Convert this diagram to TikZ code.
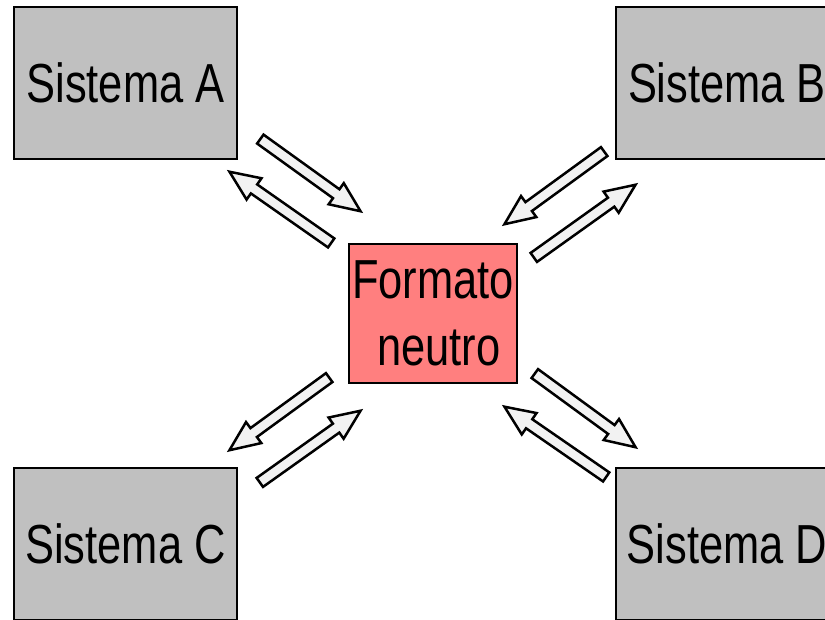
\documentclass[tikz,border=0pt]{standalone}
\usepackage{fontspec}
\setmainfont{Liberation Sans}[FakeStretch=0.79]
\usetikzlibrary{calc}
\definecolor{sysgray}{HTML}{C0C0C0}
\definecolor{neutralred}{HTML}{FF7F7F}
\definecolor{arrowgray}{HTML}{F2F2F2}

%% outlined block arrow from one named point to another
\newcommand\blockarrow[2]{%
  \draw[arrowdecorate] let \p1=($(#2)-(#1)$), \n1={atan2(\y1,\x1)},
    \n2={veclen(\x1,\y1)} in
    ([shift={(#1)},rotate=\n1]1,-5.5) -- ([shift={(#1)},rotate=\n1]\n2-33,-5.5)
    -- ([shift={(#1)},rotate=\n1]\n2-33,-13) -- ([shift={(#1)},rotate=\n1]\n2-3,0)
    -- ([shift={(#1)},rotate=\n1]\n2-33,13) -- ([shift={(#1)},rotate=\n1]\n2-33,5.5)
    -- ([shift={(#1)},rotate=\n1]1,5.5) -- cycle;
}

\begin{document}
\begin{tikzpicture}
[x=1pt,y=-1pt,
  sysdecorate/.style={shape=rectangle,draw,line width=2pt,fill=sysgray,
    minimum width=223pt,minimum height=152pt,inner sep=0pt,
    font=\fontsize{55}{67}\selectfont},%
  neutraldecorate/.style={sysdecorate,fill=neutralred,align=center,
    minimum width=168pt,minimum height=139pt},%
  arrowdecorate/.style={draw,line width=2.5pt,fill=arrowgray,line join=miter}]
\useasboundingbox (0,0) rectangle (825,620);
\clip (0,0) rectangle (825,620);
%% nodes or boxes
\foreach \nodename/\x/\y/\letter in {
  sysA/125.5/83/A, sysB/727/83/B, sysC/125.5/544/C, sysD/727/544/D} {
  \node (\nodename) at (\x,\y) [sysdecorate] {Sistema \letter};
}
\node (neutral) at (433,313.5) [neutraldecorate] {Formato\\\ neutro};
%% arrow end points
\foreach \pointname/\x/\y in {
  a1/259.5/138.5, a2/363/213, a3/332/243.5, a4/227/170,
  b1/605/151, b2/502/226, b3/533/258, b4/638/183,
  c1/330/377, c2/227/452, c3/259/483, c4/363/409,
  d1/534/373, d2/638/449, d3/607/477.5, d4/502/405} {
  \coordinate (\pointname) at (\x,\y);
}
%% arrows
\foreach \startpoint/\endpoint in {a1/a2, a3/a4, b1/b2, b3/b4,
  c1/c2, c3/c4, d1/d2, d3/d4} {
  \blockarrow{\startpoint}{\endpoint}
}
\end{tikzpicture}
\end{document}
